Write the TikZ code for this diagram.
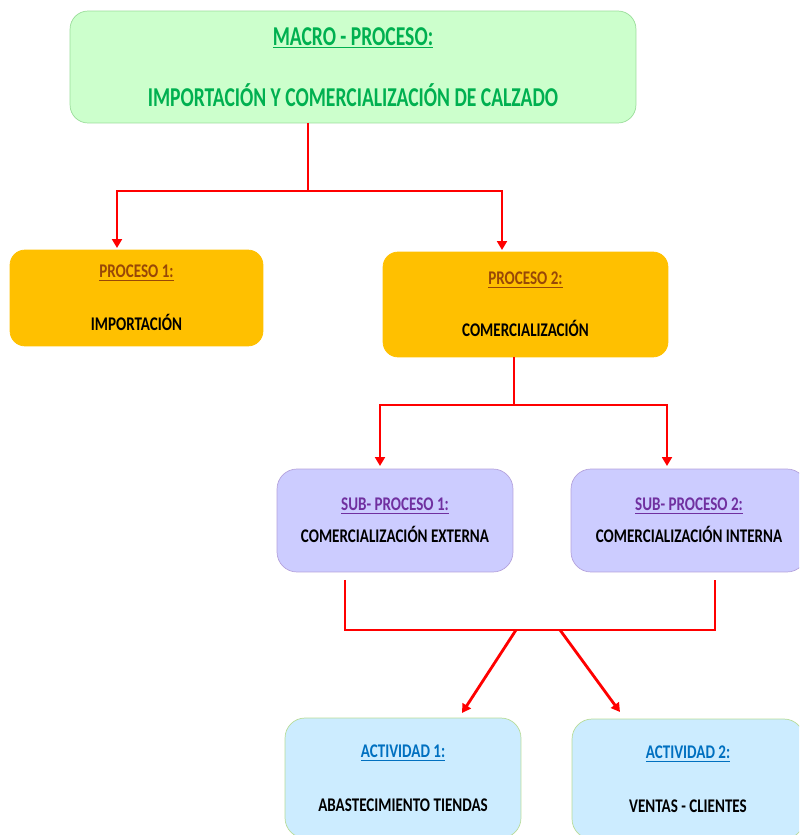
\documentclass[tikz,border=0pt]{standalone}
\usepackage{fontspec}
\setmainfont{Carlito}[FakeStretch=0.78]
\newfontfamily\macrofont{Carlito}[FakeStretch=0.72]
\usepackage{xcolor}
\usepackage{tikz}
\usetikzlibrary{positioning, calc, arrows.meta}

\definecolor{macrofill}{HTML}{CCFFCC}
\definecolor{macroline}{HTML}{9ADD9A}
\definecolor{macrotext}{HTML}{00B050}
\definecolor{procfill}{HTML}{FFC000}
\definecolor{proctext}{HTML}{984807}
\definecolor{subfill}{HTML}{CCCCFF}
\definecolor{subline}{HTML}{B4A2DC}
\definecolor{subtext}{HTML}{7030A0}
\definecolor{actfill}{HTML}{CCECFF}
\definecolor{actline}{HTML}{B8DC98}
\definecolor{acttext}{HTML}{0070C0}
\definecolor{linkred}{HTML}{FF0000}

\tikzset{
  box/.style={inner sep=0pt, outer sep=0pt, align=center, font=\bfseries},
  macrobox/.style={box, draw=macroline, fill=macrofill, rounded corners=0.36cm, text=macrotext,
    minimum width=11.32cm, minimum height=2.24cm, font=\macrofont\bfseries\fontsize{15.5}{18.6}\selectfont},
  procbox/.style={box, draw=procfill, fill=procfill, rounded corners=0.3cm,
    font=\bfseries\fontsize{11}{13.2}\selectfont},
  subbox/.style={box, draw=subline, fill=subfill, rounded corners=0.4cm,
    minimum width=4.72cm, minimum height=2.06cm, font=\bfseries\fontsize{11}{13.2}\selectfont},
  actbox/.style={box, draw=actline, fill=actfill, rounded corners=0.4cm,
    minimum height=2.4cm, font=\bfseries\fontsize{11}{13.2}\selectfont},
  link/.style={draw=linkred, line width=1.6pt},
  arrowlink/.style={link, -{Triangle[length=5pt, width=5.5pt]}}
}

\begin{document}
\begin{tikzpicture}[x=0.02cm, y=-0.02cm]
  \clip (0,0) rectangle (799,835);

  % boxes
  \node[macrobox] (macro) at (353,67) {\underline{MACRO - PROCESO:}\\[16.5pt]IMPORTACIÓN Y COMERCIALIZACIÓN DE CALZADO};

  \node[procbox, minimum width=5.06cm, minimum height=1.92cm] (proc1) at (136.5,298)
    {\textcolor{proctext}{\underline{PROCESO 1:}}\\[16.8pt]IMPORTACIÓN};
  \node[procbox, minimum width=5.7cm, minimum height=2.1cm] (proc2) at (525.5,304.5)
    {\textcolor{proctext}{\underline{PROCESO 2:}}\\[16.5pt]COMERCIALIZACIÓN};

  \node[subbox] (sub1) at (395,520.5) {\textcolor{subtext}{\underline{SUB- PROCESO 1:}}\\[5pt]COMERCIALIZACIÓN EXTERNA};
  \node[subbox] (sub2) at (689,520.5) {\textcolor{subtext}{\underline{SUB- PROCESO 2:}}\\[5pt]COMERCIALIZACIÓN INTERNA};

  \node[actbox, minimum width=4.72cm] (act1) at (403,778) {\textcolor{acttext}{\underline{ACTIVIDAD 1:}}\\[17.5pt]ABASTECIMIENTO TIENDAS};
  \node[actbox, minimum width=4.64cm] (act2) at (688,779) {\textcolor{acttext}{\underline{ACTIVIDAD 2:}}\\[17.5pt]VENTAS - CLIENTES};

  % macro -> procesos
  \coordinate (fork1) at ($(macro.south)+(-45,68)$);
  \draw[link] ($(macro.south)+(-45,0)$) -- (fork1);
  \draw[arrowlink] (fork1) -| ($(proc1.north)+(-19.5,-2)$);
  \draw[arrowlink] (fork1) -| ($(proc2.north)+(-23.5,-2)$);

  % proceso 2 -> sub-procesos
  \coordinate (fork2) at ($(proc2.south)+(-11.5,48)$);
  \draw[link] ($(proc2.south)+(-11.5,0)$) -- (fork2);
  \draw[arrowlink] (fork2) -| ($(sub1.north)+(-15,-3)$);
  \draw[arrowlink] (fork2) -| ($(sub2.north)+(-22,-3)$);

  % sub-procesos -> actividades
  \draw[link] ($(sub1.south)+(-50,8)$) -- ++(0,50) -| ($(sub2.south)+(26,8)$);
  \coordinate (join1) at ($(sub1.south)+(121,58)$);
  \coordinate (join2) at ($(sub1.south)+(165,58)$);
  \draw[arrowlink] (join1) -- ($(act1.north)+(59,-5)$);
  \draw[arrowlink] (join2) -- ($(act2.north)+(-68,-7)$);
\end{tikzpicture}
\end{document}
